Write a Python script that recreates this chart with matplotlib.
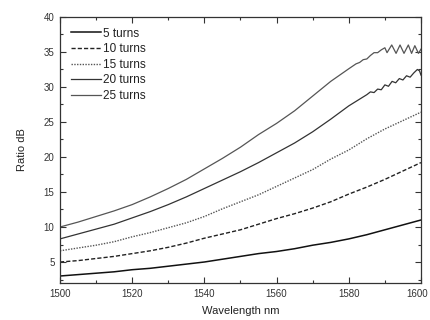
import matplotlib
matplotlib.use("Agg")
import matplotlib.pyplot as plt
from matplotlib.ticker import MultipleLocator, FixedLocator, FixedFormatter

plt.rcParams['font.family'] = ['Liberation Sans', 'DejaVu Sans']

# wavelength grid (nm) for the smooth curves
wl = [1500, 1505, 1510, 1515, 1520, 1525, 1530, 1535, 1540, 1545,
      1550, 1555, 1560, 1565, 1570, 1575, 1580, 1585, 1590, 1595, 1600]

t5 = [3.0, 3.2, 3.4, 3.6, 3.9, 4.1, 4.4, 4.7, 5.0, 5.4,
      5.8, 6.2, 6.5, 6.9, 7.4, 7.8, 8.3, 8.9, 9.6, 10.3, 11.0]
t10 = [5.0, 5.2, 5.5, 5.8, 6.2, 6.6, 7.1, 7.7, 8.4, 9.0,
       9.6, 10.4, 11.2, 11.9, 12.7, 13.6, 14.7, 15.7, 16.8, 18.0, 19.2]
t15 = [6.6, 7.0, 7.4, 7.9, 8.6, 9.2, 9.9, 10.6, 11.5, 12.6,
       13.6, 14.6, 15.8, 17.0, 18.2, 19.7, 21.0, 22.6, 24.0, 25.2, 26.4]

# 20 and 25 turns get ripple near the long-wavelength end
wl20 = [1500, 1505, 1510, 1515, 1520, 1525, 1530, 1535, 1540, 1545,
        1550, 1555, 1560, 1565, 1570, 1575, 1580, 1585, 1586, 1587, 1588,
        1589, 1590, 1591, 1592, 1593, 1594, 1595, 1596, 1597, 1598, 1599,
        1599.6, 1600]
t20 = [8.3, 9.0, 9.7, 10.4, 11.3, 12.2, 13.2, 14.3, 15.5, 16.7,
       17.9, 19.2, 20.6, 22.0, 23.6, 25.4, 27.3, 28.9, 29.3, 29.2, 29.7,
       29.6, 30.3, 30.1, 30.8, 30.6, 31.2, 31.0, 31.6, 31.4, 32.0, 32.5,
       32.3, 31.7]

wl25 = [1500, 1505, 1510, 1515, 1520, 1525, 1530, 1535, 1540, 1545,
        1550, 1555, 1560, 1565, 1570, 1575, 1580, 1582, 1583, 1584, 1585,
        1586, 1587, 1588, 1589, 1590, 1590.6, 1591.9, 1593.1, 1594.2, 1595.3,
        1596.5, 1597.4, 1598.3, 1599.3, 1600]
t25 = [10.0, 10.7, 11.5, 12.3, 13.2, 14.3, 15.5, 16.8, 18.3, 19.8,
       21.4, 23.2, 24.8, 26.6, 28.7, 30.8, 32.6, 33.3, 33.5, 33.9, 34.0,
       34.5, 34.9, 34.9, 35.3, 35.6, 34.9, 36.0, 34.8, 36.0, 34.8,
       36.0, 34.8, 35.9, 34.8, 35.4]

xticks = [1500, 1520, 1540, 1560, 1580, 1600]
xlabels = ['1500', '1520', '1540', '1560', '1580', '1600']

fig = plt.figure(figsize=(4.3, 3.2), dpi=100)
ax = fig.add_axes([0.1395, 0.1156, 0.8395, 0.8314])

ax.plot(wl, t5, color='#111111', lw=1.1, ls='-', label='5 turns')
ax.plot(wl, t10, color='#222222', lw=1.0, ls=(0, (3, 1.5)), label='10 turns')
ax.plot(wl, t15, color='#555555', lw=1.0, ls=(0, (1, 1)), label='15 turns')
ax.plot(wl20, t20, color='#333333', lw=0.9, ls='-', label='20 turns')
ax.plot(wl25, t25, color='#555555', lw=0.9, ls='-', label='25 turns')

ax.set_xlim(1500, 1600)
ax.set_ylim(2, 40)
ax.xaxis.set_major_locator(FixedLocator(xticks))
# last label is drawn separately, nudged left so it stays on the canvas
ax.xaxis.set_major_formatter(FixedFormatter(xlabels[:-1] + ['']))
ax.xaxis.set_minor_locator(MultipleLocator(10))
ax.yaxis.set_major_locator(MultipleLocator(5))
ax.yaxis.set_minor_locator(MultipleLocator(2.5))
ax.tick_params(which='both', direction='in', top=True, right=True,
               labelsize=7, colors='#333333', width=0.8)
ax.tick_params(which='major', length=4, pad=4)
ax.tick_params(which='minor', length=2.5)
for s in ax.spines.values():
    s.set_color('#333333')
    s.set_linewidth(0.9)

ax.annotate(xlabels[-1], xy=(xticks[-1], 0), xycoords=('data', 'axes fraction'),
            xytext=(-3, -4), textcoords='offset points', ha='center', va='top',
            fontsize=7, color='#333333', annotation_clip=False)

ax.set_xlabel('Wavelength nm', fontsize=8, color='#222222', labelpad=5)
ax.set_ylabel('Ratio dB', fontsize=8, color='#222222', labelpad=12)

leg = ax.legend(loc='upper left', frameon=False, fontsize=8.5,
                handlelength=2.6, labelspacing=0.3, borderaxespad=0.5,
                handletextpad=0.15)
for t in leg.get_texts():
    t.set_color('#222222')

fig.savefig('out.png', dpi=100)
